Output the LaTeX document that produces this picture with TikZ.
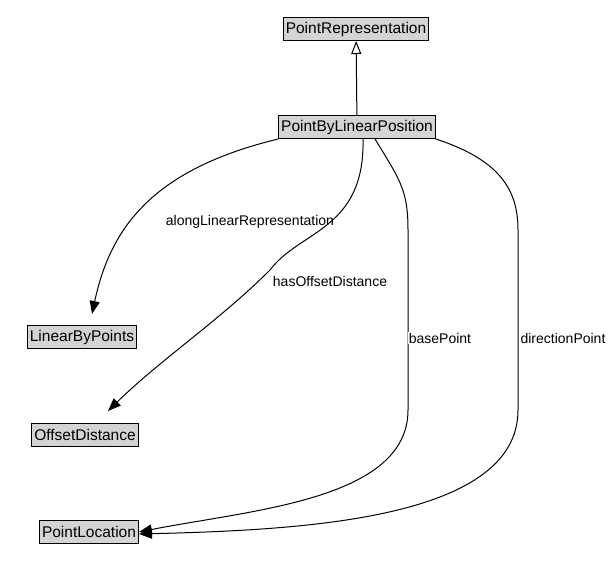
\documentclass[tikz,border=0pt]{standalone}
\usepackage{fontspec}
\setmainfont{Liberation Sans}
\usetikzlibrary{arrows.meta}
\begin{document}
\begin{tikzpicture}[x=1pt,y=-1pt,
  cls/.style={draw=black,fill=black!17,inner xsep=2.5pt,inner ysep=1.5pt,minimum height=23pt,font=\fontsize{15.5}{17}\selectfont},
  lbl/.style={font=\fontsize{14}{16}\selectfont,fill=white,inner sep=1pt},
  rel/.style={-{Triangle[length=13pt,width=10pt]}},
  every path/.style={line width=1pt}]
\useasboundingbox (0,0) rectangle (612,583);
\node[cls] (pr) at (356,29) {PointRepresentation};
\node[cls] (plp) at (357,127) {PointByLinearPosition};
\node[cls] (lbp) at (82,337) {LinearByPoints};
\node[cls] (od) at (85,435) {OffsetDistance};
\node[cls] (pl) at (89,532) {PointLocation};
\draw[-{Triangle[open,length=13pt,width=10pt]}] (plp) -- (pr);
\draw[rel] (plp.south west) .. controls (150,170) and (110,230) .. (92,314);
\node[lbl] at (250,222) {alongLinearRepresentation};
\draw[rel] ([xshift=6pt]plp.south) .. controls (365,230) and (300,230) .. (270,270) .. controls (220,320) and (160,360) .. (108,411);
\node[lbl] at (330,281) {hasOffsetDistance};
\draw[rel] ([xshift=18pt]plp.south) .. controls (400,180) and (408,190) .. (408,230) -- (408,410) .. controls (408,500) and (250,510) .. (pl.east);
\node[lbl] at (440,338) {basePoint};
\draw[rel] (plp.south east) .. controls (500,160) and (518,190) .. (518,230) -- (518,410) .. controls (518,520) and (300,530) .. ([yshift=-2pt]pl.east);
\node[lbl] at (563,338) {directionPoint};
\end{tikzpicture}
\end{document}
